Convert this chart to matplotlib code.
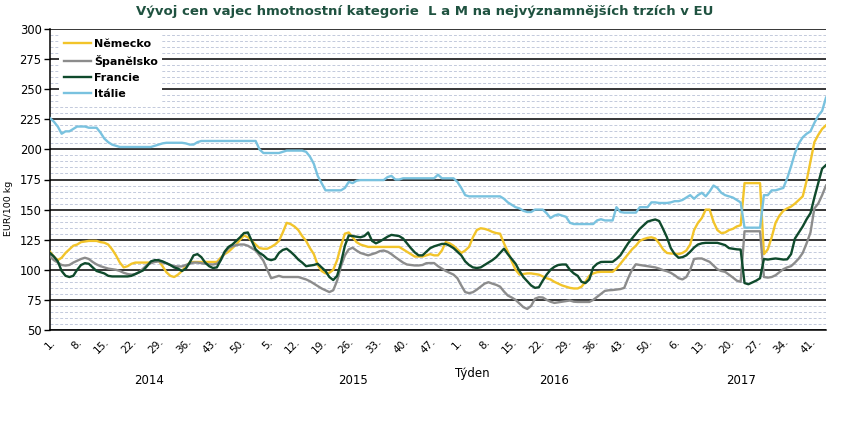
import numpy as np
import matplotlib
matplotlib.use("Agg")
import matplotlib.pyplot as plt
from matplotlib.ticker import MultipleLocator
import matplotlib.transforms as mtransforms

# weeks on the x axis (2016 has one week less in the source data)
weeks_2014 = list(range(1, 53))
weeks_2015 = list(range(1, 54))
weeks_2016 = list(range(1, 52))
weeks_2017 = list(range(1, 46))
years = ["2014", "2015", "2016", "2017"]

nemecko = [
    115, 111, 108, 110, 114, 117, 120, 121, 123, 123.5,
    124, 124, 124, 123, 122.5, 121, 117, 112, 106, 102,
    103, 105, 106, 106, 106, 106, 106, 107, 107.5, 103,
    98, 95, 94, 96, 99, 103, 106, 106.5, 106.5, 106.5,
    106.5, 106.5, 106.5, 106.5, 110, 113, 115, 118, 121, 125,
    128.5, 127, 124, 121, 118, 117.5, 117.5, 119, 121, 124,
    131, 139, 138, 136, 133, 128, 124, 118, 113, 104,
    99, 97, 97.5, 100, 108, 120, 130, 131, 127, 123,
    121, 120, 119, 119, 119, 119, 119, 119, 119, 119,
    119, 117, 115, 113, 111, 111, 111, 112, 113, 112,
    112, 116, 123, 122, 120, 117, 114, 116, 119, 127,
    133, 134.5, 134, 133, 131.5, 130.5, 130, 122, 115, 107,
    100, 96, 96.5, 97, 97, 96.5, 96, 94.5, 93, 92,
    90, 88.5, 87, 86, 85, 84.5, 84.5, 86, 90, 95,
    97, 98, 98.3, 98.3, 98.3, 98.3, 101, 105, 109, 113,
    117, 120, 124, 125.5, 126.5, 127, 126, 122, 117, 114,
    113.5, 113.5, 113, 114, 116, 121, 133, 139, 143, 150,
    150, 140, 133, 130.5, 131, 133, 134, 136, 137, 172,
    172, 172, 172, 172, 113, 117, 127, 139, 145, 149,
    151, 152.5, 155, 158, 161, 174, 190, 206, 212, 217, 220,
]

spanelsko = [
    111, 108, 106, 104, 103.5, 104, 106, 107.5, 109, 110,
    109, 106.5, 104.5, 103, 102, 101, 100.5, 100, 99, 97.5,
    96.5, 96, 96.5, 98, 101, 104, 105.5, 106.5, 107, 106,
    105.5, 104, 103, 102.8, 102.8, 104, 105, 106, 106, 105.5,
    105, 104.5, 104.4, 105, 108, 114, 118, 119.5, 120.5, 121,
    121, 120, 118, 116, 112, 107.5, 100, 93, 94, 95,
    94, 94, 94, 94, 94, 93, 92, 90.5, 88.5, 86.5,
    84.5, 83, 81.5, 83, 91, 103, 112, 117, 118.3, 116,
    114, 113, 112, 113, 114, 115.5, 116, 115, 113, 110.5,
    108.3, 106, 104.4, 104, 103.6, 103.6, 104, 105.5, 105.6, 105.6,
    103, 101, 99, 97.5, 96, 93, 87, 81.5, 80.6, 81.4,
    83.5, 86, 88.5, 89.7, 88.5, 87.5, 86, 82, 78.6, 77,
    75, 72, 69, 67.5, 70, 76, 77.2, 77, 75, 73.5,
    72.5, 73, 73.5, 74, 74.5, 73.5, 73.3, 73.3, 73.3, 73.3,
    75, 77.5, 80, 82.5, 83, 83.2, 83.6, 84, 85, 93,
    100, 104.6, 104, 103.5, 103, 102.5, 102, 101, 99.7, 98.8,
    97.5, 95.5, 93, 92, 94, 100, 109, 109.4, 109.4, 108,
    106.6, 103.5, 100.5, 99, 98.3, 96, 93.6, 91, 90, 132,
    132, 132, 132, 132, 94, 93.5, 94, 95.5, 98, 100.5,
    102, 103, 106, 109.4, 114, 122, 131, 151, 155, 162, 170,
]

francie = [
    114, 111, 107, 99, 95, 94, 95, 100, 104, 105.5,
    105, 102, 99, 98, 97, 95, 94.5, 94.5, 94.5, 94.5,
    94.5, 95, 96.5, 98, 99.5, 103, 107, 108, 108, 107,
    105.5, 104, 102, 101, 99, 101, 106, 112, 113, 110.5,
    106, 103, 101.5, 102, 108, 115, 119, 121, 124, 127,
    130.5, 131, 124, 117, 114, 112, 109, 108, 109, 114,
    116.5, 117.5, 115, 112, 108.5, 106, 103, 103.5, 104, 105,
    102, 99, 94, 91.5, 95, 106, 120, 128.5, 128, 127.5,
    127, 128, 131, 124, 122, 123.5, 125.5, 127.5, 129, 128.5,
    128, 126, 122, 118, 114.5, 112, 112, 115, 118, 119.5,
    120.5, 121.5, 121.5, 120, 118, 115, 112, 107, 104, 102,
    101.5, 102, 104, 106, 108, 110.5, 114, 117.5, 113, 109,
    105, 99, 94, 90.5, 87, 85, 85.5, 91, 96, 100,
    102.5, 104, 104.4, 104.4, 100, 97, 95, 90, 89, 92,
    102, 105, 106.5, 106.6, 106.6, 106.6, 109, 112, 117, 122,
    126, 130, 134, 137, 140, 141, 141.8, 140.5, 134, 127,
    118, 113, 110, 110.5, 112, 115, 118.5, 121, 122, 122.4,
    122.4, 122.4, 122.4, 121.5, 120.5, 118, 117.5, 117, 116.8, 89,
    88, 89.5, 91, 93, 109, 108.5, 109, 109.4, 109, 108.5,
    108.7, 113, 126, 131, 136, 142, 147, 160, 172, 184, 187,
]

italie = [
    226, 223, 219, 213, 215, 215, 217, 219, 219, 219,
    218, 218, 218, 214, 209, 206, 204, 203, 202, 202,
    202, 202, 202, 202, 202, 202, 202, 203, 204, 205,
    205.5, 205.5, 205.5, 205.5, 205.5, 205, 204, 204, 206, 207,
    207, 207, 207, 207, 207, 207, 207, 207, 207, 207,
    207, 207, 207, 207, 200, 197, 197, 197, 197, 197,
    198, 199, 199, 199, 199, 199, 198, 194, 188, 178,
    172, 166, 166, 166, 166, 166, 168, 173, 172, 174,
    174.5, 174.5, 174.5, 174.5, 174.5, 174.5, 174.5, 177, 178, 175,
    175, 176, 176, 176, 176, 176, 176, 176, 176, 176,
    179, 176, 176, 176, 176, 173, 168, 162, 161, 161,
    161, 161, 161, 161, 161, 161, 161, 159, 156, 154,
    152, 151, 149, 148, 148, 150, 150, 150, 147, 143,
    145, 146, 145, 144, 139, 138, 138, 138, 138, 138,
    138, 141, 142, 141, 141, 141, 152, 148, 147.5, 147.5,
    147.5, 147.5, 152, 152, 152, 156, 156, 155.5, 155.5, 155.5,
    156, 157, 157, 158, 160, 162, 159, 162, 164, 161,
    165, 170, 168, 164, 162, 161, 160, 158, 156, 135,
    135, 135, 135, 135, 162, 162, 166, 166, 167, 168,
    176, 186, 197, 205, 210, 213, 215, 222, 228, 232, 243,
]

week_labels = weeks_2014 + weeks_2015 + weeks_2016 + weeks_2017
x = np.arange(len(week_labels))

fig = plt.figure(figsize=(8.49, 4.24), dpi=100)
ax = fig.add_axes([50 / 849, 1 - 330 / 424, 776 / 849, 301 / 424])

ax.plot(x, nemecko, color="#f2c42a", lw=1.7, label="Německo", zorder=3)
ax.plot(x, spanelsko, color="#8c8c8c", lw=1.7, label="Španělsko", zorder=3)
ax.plot(x, francie, color="#0f4a2c", lw=1.7, label="Francie", zorder=3)
ax.plot(x, italie, color="#79c2df", lw=1.7, label="Itálie", zorder=3)

ax.set_xlim(0, len(x) - 1)
ax.set_ylim(50, 300)
ax.yaxis.set_major_locator(MultipleLocator(25))
ax.yaxis.set_minor_locator(MultipleLocator(5))
ax.grid(which="major", axis="y", color="black", lw=1.1)
ax.grid(which="minor", axis="y", color="#c3cadc", lw=0.7, ls=(0, (3, 2)))
ax.set_axisbelow(True)

for s in ["top", "right"]:
    ax.spines[s].set_visible(False)
ax.spines["left"].set_linewidth(1.1)
ax.spines["bottom"].set_linewidth(1.1)

ax.tick_params(axis="y", which="major", length=4, width=1, labelsize=8.3, pad=2)
ax.tick_params(axis="y", which="minor", length=0)

tick_pos = x[::7]
ax.set_xticks(tick_pos)
ax.set_xticklabels([f"{week_labels[i]}." for i in tick_pos], rotation=45,
                   ha="right", va="top", rotation_mode="anchor", fontsize=7.5)
ax.tick_params(axis="x", length=0, pad=5)

# year labels under the weeks
trans = mtransforms.blended_transform_factory(ax.transData, ax.transAxes)
starts = [0, len(weeks_2014), len(weeks_2014) + len(weeks_2015),
          len(weeks_2014) + len(weeks_2015) + len(weeks_2016)]
lengths = [len(weeks_2014), len(weeks_2015), len(weeks_2016), len(weeks_2017)]
for yr, st, ln in zip(years, starts, lengths):
    ax.text(st + (ln - 1) / 2, -0.167, yr, transform=trans, ha="center",
            va="center", fontsize=8.5)
fig.text(472 / 849, 1 - 373 / 424, "Týden", ha="center", va="center", fontsize=8.5)

fig.text(9 / 849, 1 - 208 / 424, "EUR/100 kg", rotation=90, ha="center",
         va="center", fontsize=6.8)

fig.text(425 / 849, 1 - 12 / 424,
         "Vývoj cen vajec hmotnostní kategorie  L a M na nejvýznamnějších trzích v EU",
         ha="center", va="center", fontsize=9.5, fontweight="bold", color="#1f5240")

leg = ax.legend(loc="upper left", bbox_to_anchor=(0.005, 1.0), frameon=True,
                fancybox=False, framealpha=1, edgecolor="none",
                prop={"weight": "bold", "size": 8}, handlelength=2.4,
                handletextpad=0.3, labelspacing=0.55, borderpad=0.4)

fig.savefig("out.png", dpi=100)
